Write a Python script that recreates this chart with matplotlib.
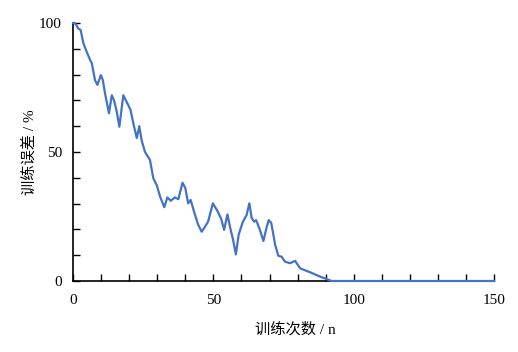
import matplotlib.pyplot as plt
from matplotlib.ticker import MultipleLocator

# training error curve
runs = [0, 0.7, 1.9, 2.7, 3.7, 4.8, 6.1, 6.7, 7.8, 8.7, 9.9, 10.6, 11.4, 12.8, 13.8,
        14.6, 15.5, 16.5, 17.9, 19.7, 20.5, 21.5, 22.7, 23.6, 24.4, 25.6, 27.4, 28.6,
        29.8, 31.0, 32.5, 33.6, 34.8, 36.3, 37.5, 39.0, 40.0, 41.0, 41.9, 43.1, 44.5,
        45.8, 47.0, 48.1, 49.8, 51.5, 52.8, 53.8, 55.0, 56.0, 57.0, 58.0, 59.0, 60.5,
        61.8, 62.8, 63.6, 64.5, 65.2, 66.5, 67.8, 69.0, 69.7, 70.6, 72.0, 73.1, 74.3,
        75.5, 77.3, 79.1, 80.9, 84.4, 88.0, 92.1, 150]
error = [100, 100, 97.8, 97.3, 92.1, 89, 85.6, 84.4, 77.9, 76, 79.8, 77.9, 72.7, 65, 72,
         70, 66, 59.8, 72, 68.1, 66.2, 61, 55.4, 60, 54.7, 50.1, 46.9, 39.8,
         37.2, 32.7, 28.6, 32.4, 31.1, 32.4, 31.7, 38.1, 36, 30.1, 31.4, 26.9, 22,
         19.1, 21, 23, 30.1, 27, 24, 19.8, 25.8, 20.5, 16, 10.3, 18, 23,
         25.5, 30.1, 24.5, 23, 23.6, 20, 15.5, 21, 23.6, 22.5, 14, 9.8, 9.4,
         7.5, 6.9, 7.8, 4.9, 3.4, 1.7, 0, 0]

plt.rcParams['font.family'] = ['Liberation Serif', 'Noto Sans CJK SC']

fig = plt.figure(figsize=(5.18, 3.52), dpi=100)
ax = fig.add_axes([0.141, 0.2017, 0.813, 0.733])

ax.plot(runs, error, color='#4472c4', lw=1.6, solid_joinstyle='round',
        clip_on=False, zorder=5)

ax.set_xlim(0, 150)
ax.set_ylim(0, 100)
ax.xaxis.set_major_locator(MultipleLocator(50))
ax.xaxis.set_minor_locator(MultipleLocator(10))
ax.yaxis.set_major_locator(MultipleLocator(50))
ax.yaxis.set_minor_locator(MultipleLocator(10))

for s in ['top', 'right']:
    ax.spines[s].set_visible(False)
for s in ['left', 'bottom']:
    ax.spines[s].set_linewidth(1.2)
    ax.spines[s].set_color('black')

ax.tick_params(which='both', direction='in', length=5, width=1.0, labelsize=11)
ax.tick_params(axis='x', which='major', pad=9)
ax.tick_params(axis='y', which='major', pad=8)

ax.set_xlabel('训练次数 / n', fontsize=11)
ax.set_ylabel('训练误差 / %', fontsize=11)
ax.xaxis.set_label_coords(0.527, -0.159)
ax.yaxis.set_label_coords(-0.086, 0.5)

fig.savefig('out.png', dpi=100)
